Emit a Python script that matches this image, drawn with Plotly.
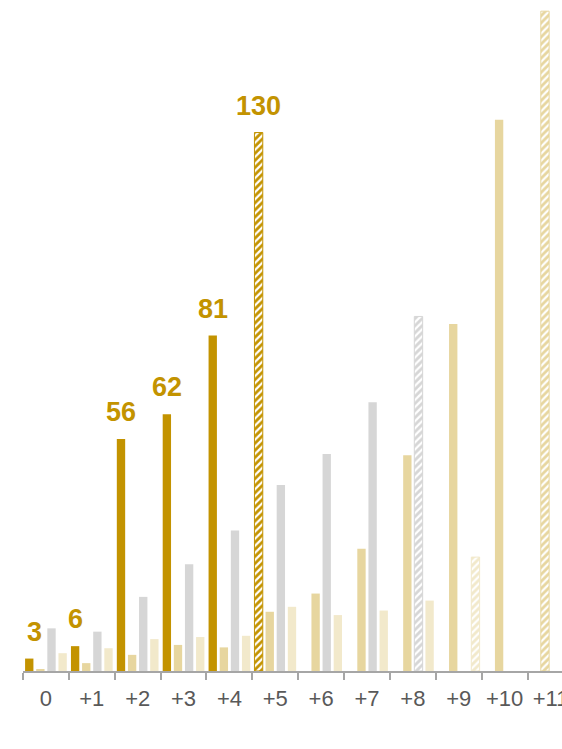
import plotly.graph_objects as go

# Categories along the horizontal axis
categories = ["0", "+1", "+2", "+3", "+4", "+5", "+6", "+7", "+8", "+9", "+10", "+11"]

# Series values (None = no bar); last entry of each series is a projection
gold_values = [3, 6, 56, 62, 81, 130, None, None, None, None, None, None]
beige_values = [0.3, 1.9, 3.9, 6.3, 5.7, 14.3, 18.7, 29.5, 52.1, 83.8, 133.1, 159.3]
gray_values = [10.3, 9.5, 17.9, 25.8, 33.9, 44.9, 52.4, 64.9, 85.6, None, None, None]
pale_values = [4.3, 5.5, 7.7, 8.2, 8.5, 15.5, 13.5, 14.6, 17.0, 27.5, None, None]

# Index of the projected (hatched) point in each series
gold_proj = 5
beige_proj = 11
gray_proj = 8
pale_proj = 9

GOLD = "#C39300"
BEIGE = "#E7D69F"
GRAY = "#D6D6D6"
PALE = "#F2E9CB"

W, H = 562, 749
M_L, M_R, M_T, M_B = 23, 0, 0, 78
X_RANGE = [-0.5, 11.25]
Y_RANGE = [0, 162]
BARGAP = 0.03
BARGROUPGAP = 0.25


def bar_trace(values, color, proj_idx):
    shapes = ["/" if i == proj_idx else "" for i in range(len(values))]
    widths = [1 if i == proj_idx else 0 for i in range(len(values))]
    return go.Bar(
        x=categories,
        y=values,
        marker=dict(
            color=color,
            line=dict(color=color, width=widths),
            pattern=dict(shape=shapes, fgcolor="white", bgcolor=color,
                         size=5, solidity=0.45, fillmode="replace"),
        ),
        hoverinfo="skip",
        showlegend=False,
    )


fig = go.Figure()
fig.add_trace(bar_trace(gold_values, GOLD, gold_proj))
fig.add_trace(bar_trace(beige_values, BEIGE, beige_proj))
fig.add_trace(bar_trace(gray_values, GRAY, gray_proj))
fig.add_trace(bar_trace(pale_values, PALE, pale_proj))

# Value labels above the gold bars (first slot in each group)
px_per_cat = (W - M_L - M_R) / (X_RANGE[1] - X_RANGE[0])
slot = px_per_cat * (1 - BARGAP) / 4
gold_offset = -1.5 * slot
label_nudge = [5, 0, 0, 0, 0, 0]
for i, v in enumerate(gold_values):
    if v is None:
        continue
    fig.add_annotation(
        x=categories[i], y=v, text=f"<b>{v}</b>",
        showarrow=False, xanchor="center", yanchor="bottom",
        xshift=gold_offset + label_nudge[i], yshift=10,
        font=dict(family="Liberation Sans, Arial, sans-serif", size=27, color=GOLD),
    )

fig.update_layout(
    width=W, height=H,
    margin=dict(l=M_L, r=M_R, t=M_T, b=M_B, autoexpand=False),
    paper_bgcolor="white", plot_bgcolor="white",
    barmode="group", bargap=BARGAP, bargroupgap=BARGROUPGAP,
    font=dict(family="Liberation Sans, Arial, sans-serif"),
    xaxis=dict(
        type="category", range=X_RANGE, automargin=False,
        showgrid=False, zeroline=False,
        showline=True, linecolor="#A6A6A6", linewidth=2,
        ticks="outside", tickson="boundaries", ticklen=7, tickwidth=2,
        tickcolor="#A6A6A6", tickangle=0,
        tickfont=dict(size=22, color="#595959"),
        ticklabelstandoff=7,
    ),
    yaxis=dict(range=Y_RANGE, visible=False, showgrid=False, zeroline=False,
               automargin=False),
)

fig.write_html("out.html")
